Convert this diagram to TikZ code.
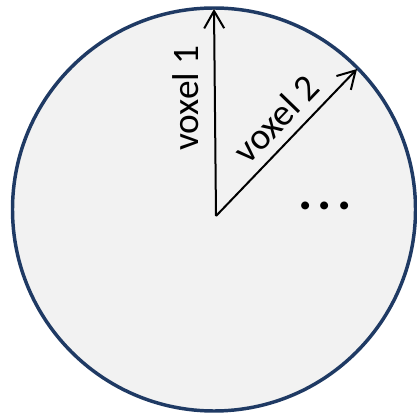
\documentclass[tikz,border=0pt]{standalone}
\usepackage{fontspec}
\setmainfont{Carlito}
\usetikzlibrary{arrows.meta}
\definecolor{rim}{RGB}{31,58,100}
\definecolor{disc}{RGB}{242,242,242}
\begin{document}
\begin{tikzpicture}[x=0.75pt,y=-0.75pt,
  ray/.style={line width=1.5pt,-{Straight Barb[length=13pt,width=15pt,line width=1.5pt]}},
  lbl/.style={font=\fontsize{28}{30}\selectfont,inner sep=0pt}]
\useasboundingbox (0,0) rectangle (417,416);
\draw[line width=2.6pt,draw=rim,fill=disc] (214,209.5) circle[radius=201.5];
\coordinate (o) at (216,216);
\coordinate (t1) at (214,9);
\coordinate (t2) at (357,69);
\draw[ray] (o) -- (t1);
\draw[ray] (o) -- (t2);
\node[lbl,rotate=90] (v1) at (186,98) {voxel 1};
\node[lbl,rotate=46] (v2) at (276,119) {voxel 2};
\node[lbl,font=\fontsize{40}{40}\selectfont\bfseries,anchor=base] (d) at (325,210) {.\kern0.1em.\kern0.1em.};
\end{tikzpicture}
\end{document}
